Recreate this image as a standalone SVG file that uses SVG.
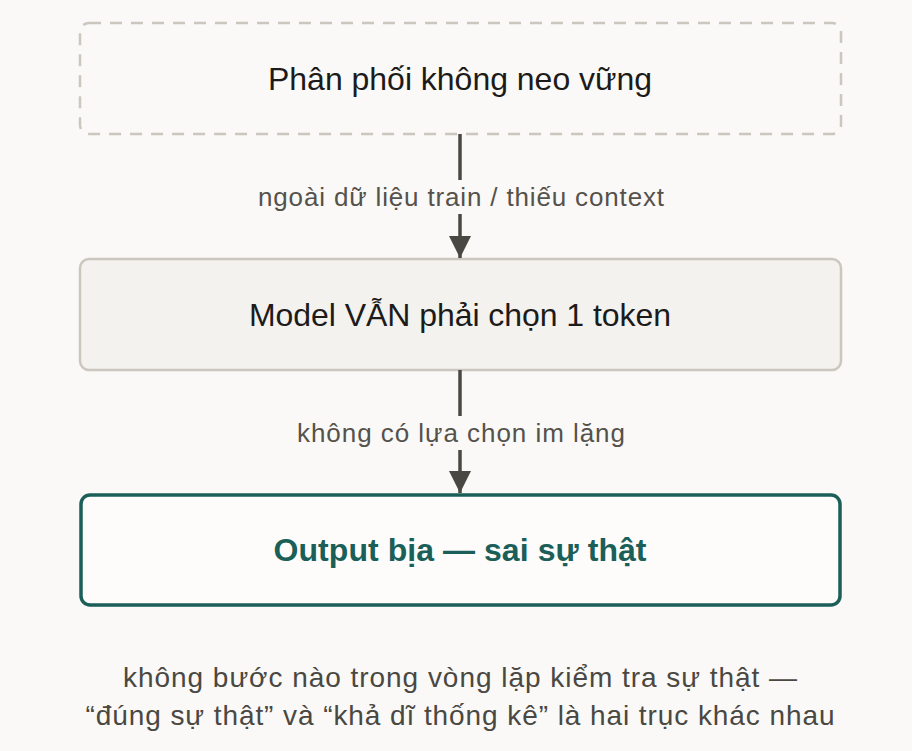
<svg xmlns="http://www.w3.org/2000/svg" width="912" height="751" viewBox="0 0 912 751">
<defs>
<style>
text{font-family:"Liberation Sans",Arial,sans-serif;text-anchor:middle}
.nt{font-size:32px;fill:#1c1b19}
.lbl{font-size:26px;fill:#55524c}
.ft{font-size:28px;fill:#4a4842}
.edge{stroke:#4a4842;stroke-width:3.5;fill:none}
</style>
<marker id="ah" viewBox="0 0 22 22" refX="22" refY="11" markerWidth="22" markerHeight="22" markerUnits="userSpaceOnUse" orient="auto">
<path d="M0,0 L22,11 L0,22 z" fill="#4a4842"/>
</marker>
</defs>
<rect width="912" height="751" fill="#faf9f7"/>
<g id="n1">
<rect x="80" y="23" width="761" height="111" rx="9" fill="#faf9f7" stroke="#cbc7bf" stroke-width="2.5" stroke-dasharray="12 9"/>
<text class="nt" x="460" y="90" textLength="384" lengthAdjust="spacing">Phân phối không neo vững</text>
</g>
<g id="n2">
<rect x="80" y="259" width="761" height="111" rx="9" fill="#f3f2ef" stroke="#cbc7bf" stroke-width="2.5"/>
<text class="nt" x="460" y="326" textLength="422" lengthAdjust="spacing">Model VẪN phải chọn 1 token</text>
</g>
<g id="n3">
<rect x="81" y="495" width="759" height="110" rx="9" fill="#fdfcfb" stroke="#1b5f58" stroke-width="3.5"/>
<text class="nt" x="460" y="561" textLength="373" lengthAdjust="spacing" style="font-weight:bold;fill:#1b5f58">Output bịa — sai sự thật</text>
</g>
<g id="edges">
<line class="edge" x1="460" y1="134" x2="460" y2="180"/>
<line class="edge" x1="460" y1="214" x2="460" y2="258" marker-end="url(#ah)"/>
<text class="lbl" x="461" y="206" textLength="406" lengthAdjust="spacing">ngoài dữ liệu train / thiếu context</text>
<line class="edge" x1="460" y1="370" x2="460" y2="416"/>
<line class="edge" x1="460" y1="450" x2="460" y2="493" marker-end="url(#ah)"/>
<text class="lbl" x="461" y="442" textLength="328" lengthAdjust="spacing">không có lựa chọn im lặng</text>
</g>
<g id="footer">
<text class="ft" x="460" y="687" textLength="674" lengthAdjust="spacing">không bước nào trong vòng lặp kiểm tra sự thật —</text>
<text class="ft" x="460" y="725" textLength="749" lengthAdjust="spacing">“đúng sự thật” và “khả dĩ thống kê” là hai trục khác nhau</text>
</g>
</svg>
